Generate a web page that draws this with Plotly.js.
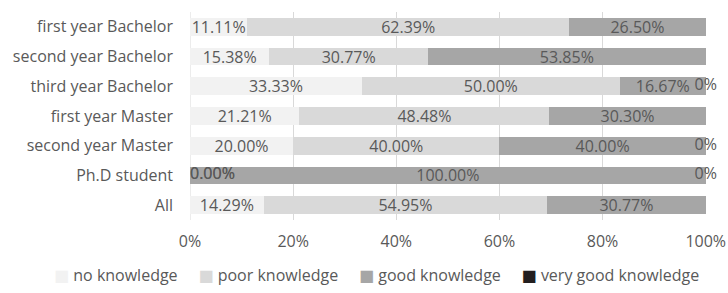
<!DOCTYPE html>
<html>
<head>
<meta charset="utf-8">
<script src="https://cdn.plot.ly/plotly-3.0.1.min.js"></script>
<style>html,body{margin:0;padding:0;background:#fff;}#chart{width:728px;height:293px;}</style>
</head>
<body>
<div id="chart"></div>
<script>
const categories = ["first year Bachelor","second year Bachelor","third year Bachelor","first year Master","second year Master","Ph.D student","All"];
const seriesNames = ["no knowledge","poor knowledge","good knowledge","very good knowledge"];
const noKnowledge = [11.11, 15.38, 33.33, 21.21, 20.00, 0, 14.29];
const poorKnowledge = [62.39, 30.77, 50.00, 48.48, 40.00, 0, 54.95];
const goodKnowledge = [26.50, 53.85, 16.67, 30.30, 40.00, 100.00, 30.77];
const veryGoodKnowledge = [null, null, 0, null, 0, 0, null];
const xTickVals = [0, 20, 40, 60, 80, 100];
const xTickText = ["0%","20%","40%","60%","80%","100%"];

const colors = ["#f2f2f2","#d9d9d9","#a6a6a6","#231f20"];
const labelFmt = [v => v.toFixed(2)+"%", v => v.toFixed(2)+"%", v => v.toFixed(2)+"%", v => v.toFixed(0)+"%"];
const allSeries = [noKnowledge, poorKnowledge, goodKnowledge, veryGoodKnowledge];
const FONT = "'Open Sans', sans-serif";
const FS = 16;
const TXT = "#595959";

const traces = [];
const zx = [], zy = [], zt = [], zp = [];
const cum = categories.map(() => 0);
allSeries.forEach((vals, s) => {
  const text = vals.map(v => (v === null || v === 0) ? "" : labelFmt[s](v));
  traces.push({
    type: "bar", orientation: "h", name: seriesNames[s],
    y: categories, x: vals.map(v => v === null ? 0 : v),
    text: text, textposition: "inside", insidetextanchor: "middle",
    textfont: {family: FONT, size: FS, color: TXT},
    marker: {color: colors[s], line: {width: 0}},
    hoverinfo: "skip", cliponaxis: false, showlegend: false
  });
  vals.forEach((v, i) => {
    if (v === 0) {
      zx.push(cum[i]); zy.push(categories[i]); zt.push(labelFmt[s](v));
      zp.push(cum[i] === 0 ? "middle right" : "middle center");
    }
    if (v !== null) cum[i] += v;
  });
});
traces.push({
  type: "scatter", mode: "text", x: zx, y: zy, text: zt, textposition: zp,
  textfont: {family: FONT, size: FS, color: TXT}, showlegend: false,
  hoverinfo: "skip", cliponaxis: false
});

const legendText = seriesNames.map((n, i) =>
  `<span style="color:${colors[i]};font-size:16px;font-family:'DejaVu Sans'">■</span>\u00a0${n}`
).join("\u00a0\u00a0\u00a0\u00a0\u00a0");

const layout = {
  width: 728, height: 293,
  margin: {l: 190, r: 22, t: 12, b: 73, pad: 0},
  paper_bgcolor: "#fff", plot_bgcolor: "#fff",
  barmode: "stack", bargap: 0.4,
  uniformtext: {mode: "show", minsize: FS},
  font: {family: FONT, size: FS, color: TXT},
  xaxis: {
    range: [0, 100.05], tickvals: xTickVals, ticktext: xTickText,
    showgrid: true, gridcolor: "#d9d9d9", gridwidth: 1,
    zeroline: false, showline: false, ticks: "", ticklabelstandoff: 10,
    tickfont: {family: FONT, size: FS, color: TXT}, fixedrange: true
  },
  yaxis: {
    type: "category", autorange: "reversed", showgrid: false, zeroline: false,
    showline: false, ticks: "", ticklabelstandoff: 16,
    tickfont: {family: FONT, size: FS, color: TXT}, fixedrange: true
  },
  shapes: [{type: "line", xref: "x", yref: "paper", x0: 0, x1: 0, y0: 0, y1: 1, line: {color: "#d9d9d9", width: 1}, layer: "below"}],
  annotations: [{
    xref: "paper", yref: "paper", x: 0.362, y: -0.264, xanchor: "center", yanchor: "middle",
    text: legendText, showarrow: false, font: {family: FONT, size: FS, color: TXT}
  }],
  showlegend: false
};
Plotly.newPlot("chart", traces, layout, {displayModeBar: false, staticPlot: true});
</script>
</body>
</html>
